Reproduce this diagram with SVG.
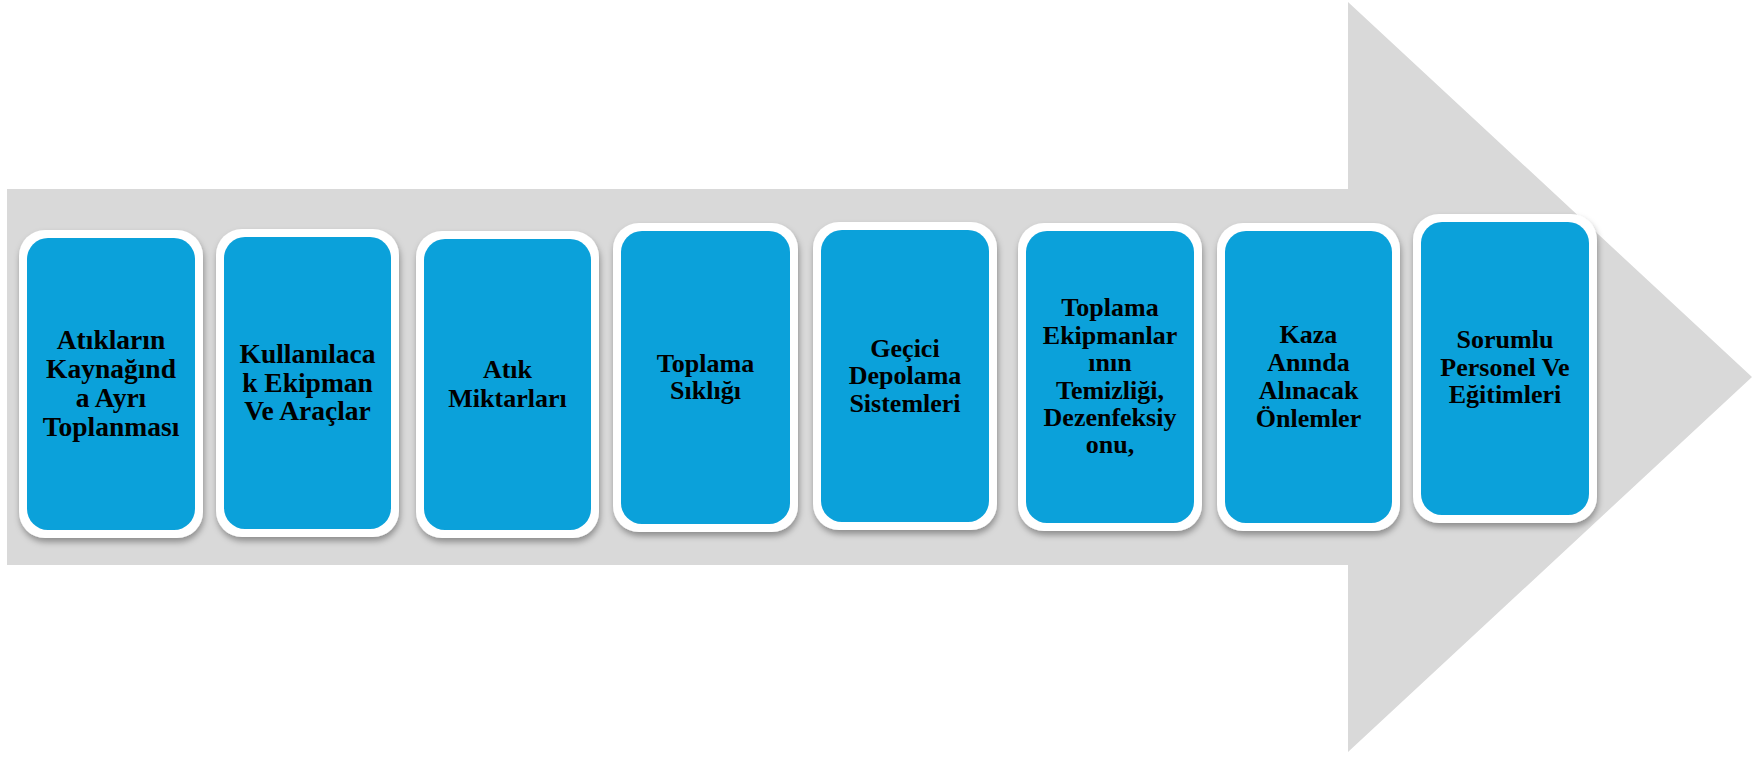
<svg xmlns="http://www.w3.org/2000/svg" width="1754" height="757" viewBox="0 0 1754 757">
<defs>
<filter id="sh" x="-10%" y="-10%" width="120%" height="120%">
<feDropShadow dx="1" dy="4" stdDeviation="3" flood-color="#000" flood-opacity="0.35"/>
</filter>
<style>
.outer{fill:#ffffff;filter:url(#sh)}
.inner{fill:#0BA1DA}
.t{font-family:"Liberation Serif","Times New Roman",serif;font-weight:bold;font-size:26px;fill:#000;text-anchor:middle}
.big{font-size:27.5px}
</style>
</defs>
<g id="arrow">
<polygon points="7,189 1348,189 1348,2 1752,377 1348,752 1348,565 7,565" fill="#D9D9D9"/>
</g>
<g id="connectors"></g>
<g id="node1">
<rect class="outer" x="19" y="230" width="184" height="308" rx="26"/>
<rect class="inner" x="27" y="238" width="168" height="292" rx="21"/>
<text class="t big" x="111"><tspan x="111" y="349">Atıkların</tspan><tspan x="111" y="378">Kaynağınd</tspan><tspan x="111" y="407">a Ayrı</tspan><tspan x="111" y="436">Toplanması</tspan></text>
</g>
<g id="node2">
<rect class="outer" x="216" y="229" width="183" height="308" rx="26"/>
<rect class="inner" x="224" y="237" width="167" height="292" rx="21"/>
<text class="t big"><tspan x="307.5" y="363">Kullanılaca</tspan><tspan x="307.5" y="392">k Ekipman</tspan><tspan x="307.5" y="420">Ve Araçlar</tspan></text>
</g>
<g id="node3">
<rect class="outer" x="416" y="231" width="183" height="307" rx="26"/>
<rect class="inner" x="424" y="239" width="167" height="291" rx="21"/>
<text class="t"><tspan x="507.5" y="378">Atık</tspan><tspan x="507.5" y="407">Miktarları</tspan></text>
</g>
<g id="node4">
<rect class="outer" x="613" y="223" width="185" height="309" rx="26"/>
<rect class="inner" x="621" y="231" width="169" height="293" rx="21"/>
<text class="t"><tspan x="705.5" y="372">Toplama</tspan><tspan x="705.5" y="399">Sıklığı</tspan></text>
</g>
<g id="node5">
<rect class="outer" x="813" y="222" width="184" height="308" rx="26"/>
<rect class="inner" x="821" y="230" width="168" height="292" rx="21"/>
<text class="t"><tspan x="905" y="357">Geçici</tspan><tspan x="905" y="384">Depolama</tspan><tspan x="905" y="412">Sistemleri</tspan></text>
</g>
<g id="node6">
<rect class="outer" x="1018" y="223" width="184" height="308" rx="26"/>
<rect class="inner" x="1026" y="231" width="168" height="292" rx="21"/>
<text class="t"><tspan x="1110" y="316">Toplama</tspan><tspan x="1110" y="343.5">Ekipmanlar</tspan><tspan x="1110" y="371">ının</tspan><tspan x="1110" y="398.5">Temizliği,</tspan><tspan x="1110" y="426">Dezenfeksiy</tspan><tspan x="1110" y="453">onu,</tspan></text>
</g>
<g id="node7">
<rect class="outer" x="1217" y="223" width="183" height="308" rx="26"/>
<rect class="inner" x="1225" y="231" width="167" height="292" rx="21"/>
<text class="t"><tspan x="1308.5" y="343">Kaza</tspan><tspan x="1308.5" y="371">Anında</tspan><tspan x="1308.5" y="399">Alınacak</tspan><tspan x="1308.5" y="427">Önlemler</tspan></text>
</g>
<g id="node8">
<rect class="outer" x="1413" y="214" width="184" height="309" rx="26"/>
<rect class="inner" x="1421" y="222" width="168" height="293" rx="21"/>
<text class="t"><tspan x="1505" y="348">Sorumlu</tspan><tspan x="1505" y="376">Personel Ve</tspan><tspan x="1505" y="403">Eğitimleri</tspan></text>
</g>
</svg>
